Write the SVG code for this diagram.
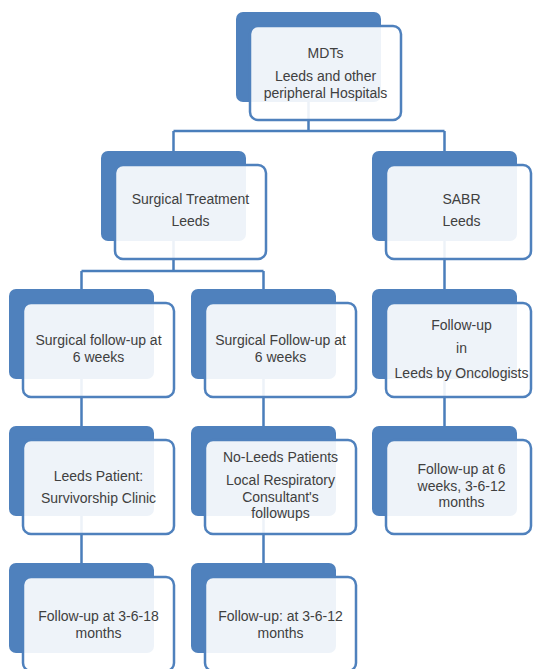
<svg xmlns="http://www.w3.org/2000/svg" width="534" height="669" viewBox="0 0 534 669">
<style>
.back{fill:#4f81bd;}
.front{fill:#ffffff;fill-opacity:0.9;stroke:#4f81bd;stroke-width:2.5;}
.conn{fill:none;stroke:#4a7ebb;stroke-width:2.5;}
text{font-family:"Liberation Sans",Arial,sans-serif;font-size:14px;fill:#404040;text-anchor:middle;}
</style>
<rect width="534" height="669" fill="#ffffff"/>
<g id="connectors">
<path class="conn" d="M308.5 100V131M173.5 131H444.5M173.5 131V153M444.5 131V153"/>
<path class="conn" d="M173.5 238V271M81.5 271H263.5M81.5 271V291M263.5 271V291"/>
<path class="conn" d="M444.5 238V291"/>
<path class="conn" d="M81.5 376V428M263.5 376V428M444.5 376V428"/>
<path class="conn" d="M81.5 514V565M263.5 514V565"/>
</g>
<g id="n-mdts">
<rect class="back" x="236" y="12" width="145" height="90" rx="7"/>
<rect class="front" x="250" y="26" width="151" height="94" rx="8"/>
<text x="325.5" y="58">MDTs</text>
<text x="325.5" y="81">Leeds and other</text>
<text x="325.5" y="98">peripheral Hospitals</text>
</g>
<g id="n-surgical">
<rect class="back" x="101" y="151" width="145" height="90" rx="7"/>
<rect class="front" x="115" y="165" width="151" height="94" rx="8"/>
<text x="190.5" y="204">Surgical Treatment</text>
<text x="190.5" y="226">Leeds</text>
</g>
<g id="n-sabr">
<rect class="back" x="372" y="151" width="145" height="90" rx="7"/>
<rect class="front" x="386" y="165" width="145" height="94" rx="8"/>
<text x="461.5" y="204">SABR</text>
<text x="461.5" y="226">Leeds</text>
</g>
<g id="n-surg-fu-a">
<rect class="back" x="9" y="289" width="145" height="90" rx="7"/>
<rect class="front" x="23" y="303" width="151" height="94" rx="8"/>
<text x="98.5" y="345">Surgical follow-up at</text>
<text x="98.5" y="362">6 weeks</text>
</g>
<g id="n-surg-fu-b">
<rect class="back" x="191" y="289" width="145" height="90" rx="7"/>
<rect class="front" x="205" y="303" width="151" height="94" rx="8"/>
<text x="280.5" y="345">Surgical Follow-up at</text>
<text x="280.5" y="362">6 weeks</text>
</g>
<g id="n-onc-fu">
<rect class="back" x="372" y="289" width="145" height="90" rx="7"/>
<rect class="front" x="386" y="303" width="145" height="94" rx="8"/>
<text x="461.5" y="330">Follow-up</text>
<text x="461.5" y="353">in</text>
<text x="461.5" y="378">Leeds by Oncologists</text>
</g>
<g id="n-leeds-patient">
<rect class="back" x="9" y="426" width="145" height="90" rx="7"/>
<rect class="front" x="23" y="440" width="151" height="94" rx="8"/>
<text x="98.5" y="481">Leeds Patient:</text>
<text x="98.5" y="503">Survivorship Clinic</text>
</g>
<g id="n-noleeds">
<rect class="back" x="191" y="426" width="145" height="90" rx="7"/>
<rect class="front" x="205" y="440" width="151" height="94" rx="8"/>
<text x="280.5" y="462">No-Leeds Patients</text>
<text x="280.5" y="485">Local Respiratory</text>
<text x="280.5" y="502">Consultant's</text>
<text x="280.5" y="518">followups</text>
</g>
<g id="n-sabr-fu">
<rect class="back" x="372" y="426" width="145" height="90" rx="7"/>
<rect class="front" x="386" y="440" width="145" height="94" rx="8"/>
<text x="461.5" y="474">Follow-up at 6</text>
<text x="461.5" y="491">weeks, 3-6-12</text>
<text x="461.5" y="507">months</text>
</g>
<g id="n-fu-18">
<rect class="back" x="9" y="563" width="145" height="90" rx="7"/>
<rect class="front" x="23" y="577" width="151" height="94" rx="8"/>
<text x="98.5" y="621">Follow-up at 3-6-18</text>
<text x="98.5" y="638">months</text>
</g>
<g id="n-fu-12">
<rect class="back" x="191" y="563" width="145" height="90" rx="7"/>
<rect class="front" x="205" y="577" width="151" height="94" rx="8"/>
<text x="280.5" y="621">Follow-up: at 3-6-12</text>
<text x="280.5" y="638">months</text>
</g>
</svg>
